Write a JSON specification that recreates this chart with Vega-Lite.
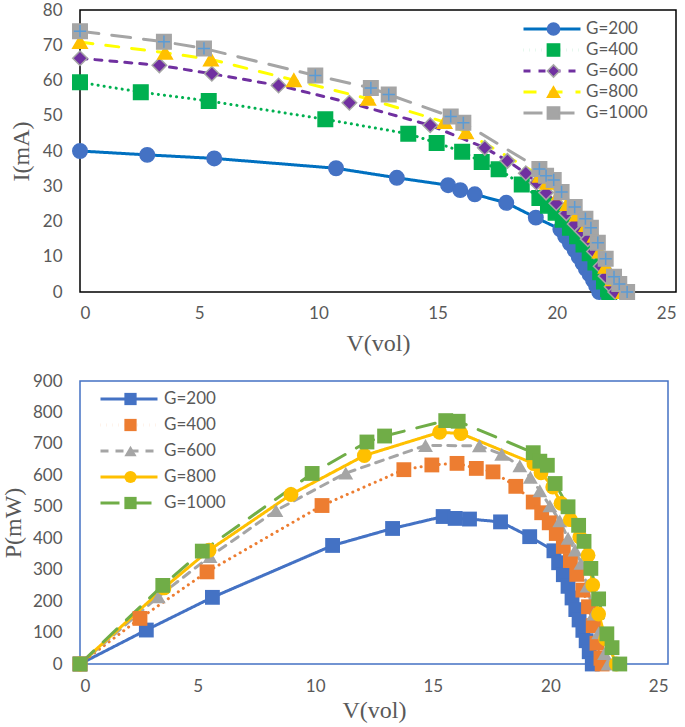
{
  "$schema": "https://vega.github.io/schema/vega-lite/v6.json",
  "padding": {"left": 0, "top": 0, "right": 0, "bottom": 0},
  "background": "white",
  "config": {
    "axis": {"domain": false, "ticks": false, "grid": false, "labelFont": "Lato", "labelFontSize": 17, "labelColor": "#595959", "titleFont": "Liberation Serif", "titleFontSize": 24, "titleFontWeight": "normal", "titleColor": "#595959", "labelPadding": 18}
  },
  "datasets": {
    "pv": [
      {"G": 200, "V": 0, "I": 40.0, "P": 0},
      {"G": 200, "V": 2.82, "I": 38.9, "P": 108},
      {"G": 200, "V": 5.63, "I": 37.9, "P": 212},
      {"G": 200, "V": 10.74, "I": 35.1, "P": 377},
      {"G": 200, "V": 13.29, "I": 32.4, "P": 431},
      {"G": 200, "V": 15.44, "I": 30.3, "P": 469},
      {"G": 200, "V": 15.95, "I": 28.9, "P": 463},
      {"G": 200, "V": 16.56, "I": 27.7, "P": 461},
      {"G": 200, "V": 17.88, "I": 25.3, "P": 452},
      {"G": 200, "V": 19.12, "I": 21.1, "P": 405},
      {"G": 200, "V": 20.15, "I": 17.8, "P": 360},
      {"G": 200, "V": 20.35, "I": 15.8, "P": 322},
      {"G": 200, "V": 20.55, "I": 13.8, "P": 284},
      {"G": 200, "V": 20.75, "I": 11.9, "P": 247},
      {"G": 200, "V": 20.92, "I": 10.0, "P": 210},
      {"G": 200, "V": 21.08, "I": 8.2, "P": 173},
      {"G": 200, "V": 21.22, "I": 6.6, "P": 140},
      {"G": 200, "V": 21.38, "I": 5.0, "P": 107},
      {"G": 200, "V": 21.52, "I": 3.4, "P": 74},
      {"G": 200, "V": 21.65, "I": 1.8, "P": 39},
      {"G": 200, "V": 21.78, "I": 0, "P": 0},
      {"G": 400, "V": 0, "I": 59.5, "P": 0},
      {"G": 400, "V": 2.55, "I": 56.7, "P": 145},
      {"G": 400, "V": 5.40, "I": 54.2, "P": 293},
      {"G": 400, "V": 10.29, "I": 49.0, "P": 504},
      {"G": 400, "V": 13.77, "I": 44.9, "P": 618},
      {"G": 400, "V": 14.96, "I": 42.3, "P": 633},
      {"G": 400, "V": 16.03, "I": 39.8, "P": 638},
      {"G": 400, "V": 16.85, "I": 36.9, "P": 622},
      {"G": 400, "V": 17.56, "I": 34.8, "P": 611},
      {"G": 400, "V": 18.53, "I": 30.5, "P": 565},
      {"G": 400, "V": 19.27, "I": 26.7, "P": 515},
      {"G": 400, "V": 19.63, "I": 24.5, "P": 481},
      {"G": 400, "V": 19.95, "I": 22.5, "P": 449},
      {"G": 400, "V": 20.25, "I": 20.5, "P": 415},
      {"G": 400, "V": 20.55, "I": 18.2, "P": 374},
      {"G": 400, "V": 20.85, "I": 15.8, "P": 329},
      {"G": 400, "V": 21.12, "I": 13.5, "P": 285},
      {"G": 400, "V": 21.38, "I": 11.0, "P": 235},
      {"G": 400, "V": 21.62, "I": 8.4, "P": 182},
      {"G": 400, "V": 21.82, "I": 5.6, "P": 122},
      {"G": 400, "V": 21.98, "I": 3.0, "P": 66},
      {"G": 400, "V": 22.15, "I": 0.8, "P": 18},
      {"G": 400, "V": 22.2, "I": 0, "P": 0},
      {"G": 600, "V": 0, "I": 66.3, "P": 0},
      {"G": 600, "V": 3.33, "I": 64.3, "P": 214},
      {"G": 600, "V": 5.53, "I": 61.9, "P": 342},
      {"G": 600, "V": 8.33, "I": 58.6, "P": 488},
      {"G": 600, "V": 11.30, "I": 53.7, "P": 607},
      {"G": 600, "V": 14.69, "I": 47.3, "P": 695},
      {"G": 600, "V": 16.98, "I": 40.9, "P": 694},
      {"G": 600, "V": 17.93, "I": 37.2, "P": 667},
      {"G": 600, "V": 18.70, "I": 33.7, "P": 630},
      {"G": 600, "V": 19.15, "I": 31.0, "P": 594},
      {"G": 600, "V": 19.55, "I": 28.2, "P": 551},
      {"G": 600, "V": 19.98, "I": 25.2, "P": 503},
      {"G": 600, "V": 20.4, "I": 22.3, "P": 455},
      {"G": 600, "V": 20.75, "I": 19.3, "P": 400},
      {"G": 600, "V": 21.05, "I": 17.2, "P": 362},
      {"G": 600, "V": 21.3, "I": 15.0, "P": 320},
      {"G": 600, "V": 21.56, "I": 11.5, "P": 248},
      {"G": 600, "V": 21.84, "I": 7.3, "P": 159},
      {"G": 600, "V": 22.05, "I": 4.5, "P": 99},
      {"G": 600, "V": 22.3, "I": 1.5, "P": 33},
      {"G": 600, "V": 22.45, "I": 0, "P": 0},
      {"G": 800, "V": 0, "I": 70.9, "P": 0},
      {"G": 800, "V": 3.57, "I": 67.9, "P": 242},
      {"G": 800, "V": 5.49, "I": 66.0, "P": 362},
      {"G": 800, "V": 8.97, "I": 60.1, "P": 539},
      {"G": 800, "V": 12.09, "I": 54.8, "P": 663},
      {"G": 800, "V": 15.29, "I": 48.2, "P": 737},
      {"G": 800, "V": 16.19, "I": 45.3, "P": 733},
      {"G": 800, "V": 19.3, "I": 33.0, "P": 637},
      {"G": 800, "V": 19.6, "I": 31.0, "P": 608},
      {"G": 800, "V": 20.1, "I": 28.0, "P": 563},
      {"G": 800, "V": 20.45, "I": 25.0, "P": 511},
      {"G": 800, "V": 20.85, "I": 22.0, "P": 459},
      {"G": 800, "V": 21.25, "I": 19.0, "P": 404},
      {"G": 800, "V": 21.6, "I": 16.0, "P": 346},
      {"G": 800, "V": 21.8, "I": 11.5, "P": 251},
      {"G": 800, "V": 22.05, "I": 7.2, "P": 159},
      {"G": 800, "V": 22.35, "I": 3.6, "P": 80},
      {"G": 800, "V": 22.8, "I": 0, "P": 0},
      {"G": 1000, "V": 0, "I": 74.0, "P": 0},
      {"G": 1000, "V": 3.52, "I": 71.0, "P": 250},
      {"G": 1000, "V": 5.20, "I": 69.1, "P": 359},
      {"G": 1000, "V": 9.87, "I": 61.4, "P": 606},
      {"G": 1000, "V": 12.20, "I": 57.9, "P": 706},
      {"G": 1000, "V": 12.95, "I": 56.0, "P": 725},
      {"G": 1000, "V": 15.55, "I": 49.8, "P": 774},
      {"G": 1000, "V": 16.08, "I": 48.0, "P": 772},
      {"G": 1000, "V": 19.27, "I": 34.9, "P": 672},
      {"G": 1000, "V": 19.55, "I": 33.0, "P": 645},
      {"G": 1000, "V": 19.87, "I": 31.8, "P": 632},
      {"G": 1000, "V": 20.2, "I": 28.4, "P": 574},
      {"G": 1000, "V": 20.75, "I": 24.1, "P": 500},
      {"G": 1000, "V": 21.2, "I": 20.8, "P": 441},
      {"G": 1000, "V": 21.43, "I": 18.2, "P": 390},
      {"G": 1000, "V": 21.72, "I": 14.0, "P": 304},
      {"G": 1000, "V": 22.05, "I": 9.4, "P": 207},
      {"G": 1000, "V": 22.4, "I": 4.3, "P": 96},
      {"G": 1000, "V": 22.62, "I": 2.3, "P": 52},
      {"G": 1000, "V": 22.95, "I": 0, "P": 0}
    ]
  },
  "data": {"name": "pv"},
  "spacing": 89,
  "bounds": "flush",
  "resolve": {
    "scale": {"color": "independent", "fill": "independent", "shape": "independent", "strokeDash": "independent", "stroke": "independent"},
    "legend": {"color": "independent", "fill": "independent", "shape": "independent", "strokeDash": "independent"}
  },
  "vconcat": [
    {
      "width": 596,
      "height": 282,
      "view": {"stroke": "#000000", "strokeWidth": 1.5},
      "encoding": {
        "x": {"field": "V", "type": "quantitative", "scale": {"domain": [0, 25], "nice": false}, "axis": {"values": [0, 5, 10, 15, 20, 25], "title": "V(vol)", "labelPadding": 13, "titlePadding": 10}},
        "y": {"field": "I", "type": "quantitative", "scale": {"domain": [0, 80], "nice": false}, "axis": {"values": [0, 10, 20, 30, 40, 50, 60, 70, 80], "title": "I(mA)", "titlePadding": 9}}
      },
      "layer": [
        {
          "mark": {"type": "line", "strokeWidth": 3, "strokeCap": "round"},
          "encoding": {
            "color": {"field": "G", "type": "nominal", "scale": {"domain": [200, 400, 600, 800, 1000], "range": ["#0070C0", "#00B050", "#7030A0", "#FFFF00", "#A5A5A5"]},
              "legend": {"orient": "none", "legendX": 442, "legendY": 9, "symbolType": "stroke", "symbolSize": 3249, "symbolStrokeWidth": 3, "clipHeight": 20, "rowPadding": 1, "padding": 0, "labelOffset": 4, "labelFont": "Lato", "labelFontSize": 17, "labelColor": "#595959", "labelExpr": "'G=' + datum.label", "title": null}},
            "strokeDash": {"field": "G", "type": "nominal", "scale": {"domain": [200, 400, 600, 800, 1000], "range": [[1, 0], [0.1, 6], [7, 8], [13, 13], [19, 13]]},
              "legend": {"orient": "none", "legendX": 442, "legendY": 9, "symbolType": "stroke", "symbolSize": 3249, "symbolStrokeWidth": 3, "clipHeight": 20, "rowPadding": 1, "padding": 0, "labelOffset": 4, "labelFont": "Lato", "labelFontSize": 17, "labelColor": "#595959", "labelExpr": "'G=' + datum.label", "title": null}}
          }
        },
        {
          "mark": {"type": "point", "filled": true, "opacity": 1, "size": 210, "strokeWidth": 1.5},
          "encoding": {
            "fill": {"field": "G", "type": "nominal", "scale": {"range": ["#4472C4", "#00B050", "#7030A0", "#FFC000", "#A5A5A5"]},
              "legend": {"orient": "none", "legendX": 465, "legendY": 9, "symbolSize": 150, "clipHeight": 20, "rowPadding": 1, "padding": 0, "labelOffset": 0, "labelFontSize": 17, "labelExpr": "''", "title": null}},
            "shape": {"field": "G", "type": "nominal", "scale": {"range": ["circle", "square", "diamond", "triangle-up", "square"]},
              "legend": {"orient": "none", "legendX": 465, "legendY": 9, "symbolSize": 150, "clipHeight": 20, "rowPadding": 1, "padding": 0, "labelOffset": 0, "labelFontSize": 17, "labelExpr": "''", "title": null}},
            "stroke": {"field": "G", "type": "nominal", "scale": {"range": ["#4472C4", "#00B050", "#A5A5A5", "#FFC000", "#A5A5A5"]}, "legend": null}
          }
        },
        {
          "transform": [{"filter": "datum.G == 1000"}],
          "mark": {"type": "point", "shape": "M-1,0L1,0M0,-1L0,1", "size": 150, "stroke": "#5B9BD5", "strokeWidth": 1.5, "filled": false, "opacity": 1},
          "encoding": {}
        }
      ]
    },
    {
      "width": 588,
      "height": 283,
      "view": {"stroke": "#4472C4", "strokeWidth": 1.5},
      "encoding": {
        "x": {"field": "V", "type": "quantitative", "scale": {"domain": [0, 25], "nice": false}, "axis": {"values": [0, 5, 10, 15, 20, 25], "title": "V(vol)", "labelPadding": 14, "titlePadding": 4}},
        "y": {"field": "P", "type": "quantitative", "scale": {"domain": [0, 900], "nice": false}, "axis": {"values": [0, 100, 200, 300, 400, 500, 600, 700, 800, 900], "title": "P(mW)", "titlePadding": 7}}
      },
      "layer": [
        {
          "mark": {"type": "line", "strokeWidth": 3, "strokeCap": "round"},
          "encoding": {
            "color": {"field": "G", "type": "nominal", "scale": {"domain": [200, 400, 600, 800, 1000], "range": ["#4472C4", "#ED7D31", "#A5A5A5", "#FFC000", "#70AD47"]},
              "legend": {"orient": "none", "legendX": 19, "legendY": 8, "symbolType": "stroke", "symbolSize": 3249, "symbolStrokeWidth": 3, "clipHeight": 20, "rowPadding": 6, "padding": 0, "labelOffset": 5, "labelFont": "Lato", "labelFontSize": 17, "labelColor": "#595959", "labelExpr": "'G=' + datum.label", "title": null}},
            "strokeDash": {"field": "G", "type": "nominal", "scale": {"domain": [200, 400, 600, 800, 1000], "range": [[1, 0], [0.1, 6], [8, 7], [1, 0], [19, 13]]},
              "legend": {"orient": "none", "legendX": 19, "legendY": 8, "symbolType": "stroke", "symbolSize": 3249, "symbolStrokeWidth": 3, "clipHeight": 20, "rowPadding": 6, "padding": 0, "labelOffset": 5, "labelFont": "Lato", "labelFontSize": 17, "labelColor": "#595959", "labelExpr": "'G=' + datum.label", "title": null}}
          }
        },
        {
          "mark": {"type": "point", "filled": true, "opacity": 1, "size": 220, "strokeWidth": 0},
          "encoding": {
            "fill": {"field": "G", "type": "nominal", "scale": {"range": ["#4472C4", "#ED7D31", "#A5A5A5", "#FFC000", "#70AD47"]},
              "legend": {"orient": "none", "legendX": 42, "legendY": 8, "symbolSize": 150, "clipHeight": 20, "rowPadding": 6, "padding": 0, "labelOffset": 0, "labelFontSize": 17, "labelExpr": "''", "title": null}},
            "shape": {"field": "G", "type": "nominal", "scale": {"range": ["square", "square", "triangle-up", "circle", "square"]},
              "legend": {"orient": "none", "legendX": 42, "legendY": 8, "symbolSize": 150, "clipHeight": 20, "rowPadding": 6, "padding": 0, "labelOffset": 0, "labelFontSize": 17, "labelExpr": "''", "title": null}}
          }
        }
      ]
    }
  ]
}
